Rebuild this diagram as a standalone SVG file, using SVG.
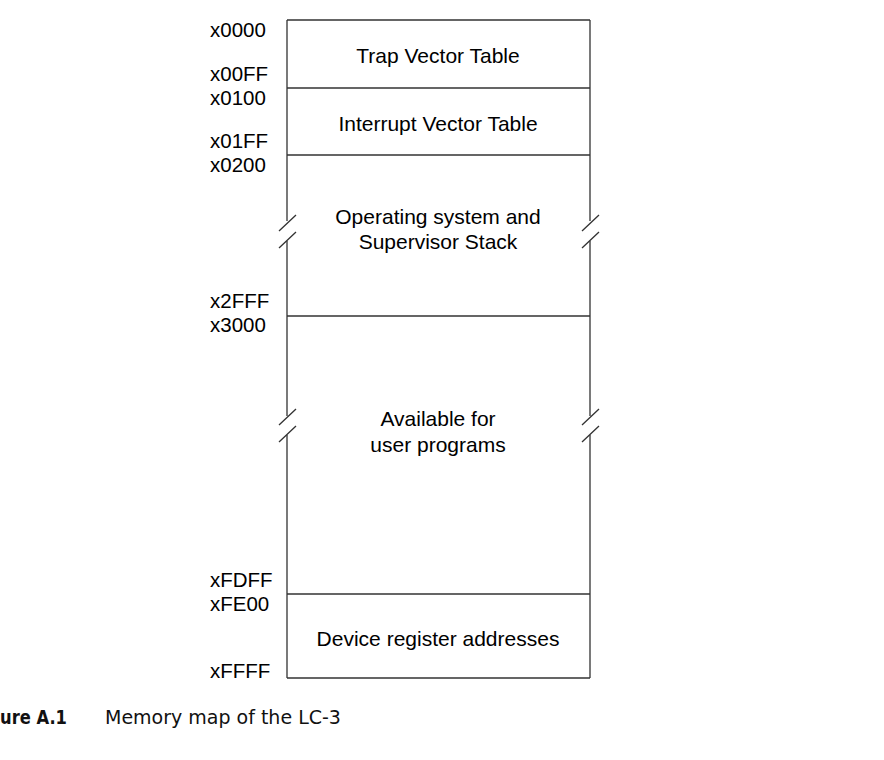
<svg xmlns="http://www.w3.org/2000/svg" width="884" height="760" viewBox="0 0 884 760">
<style>
.addr{font-family:"Liberation Sans",Arial,sans-serif;font-size:20.5px;fill:#000}
.lbl{font-family:"Liberation Sans",Arial,sans-serif;font-size:21px;fill:#000;text-anchor:middle}
.ln{stroke:#333;stroke-width:1.3;fill:none}
.cap{font-family:"DejaVu Sans",sans-serif;font-size:19px;fill:#111}
</style>
<rect width="884" height="760" fill="#fff"/>
<g id="connectors">
<path class="ln" d="M287,20 H590 M287,88 H590 M287,155 H590 M287,316 H590 M287,594 H590 M287,678 H590"/>
<path class="ln" d="M287,20 V221 M287,241 V416 M287,435 V678"/>
<path class="ln" d="M590,20 V221 M590,241 V416 M590,435 V678"/>
<path class="ln" d="M279,231 L296,215 M279,248 L296,232 M582,231 L599,215 M582,248 L599,232"/>
<path class="ln" d="M279,425 L296,409 M279,442 L296,426 M582,425 L599,409 M582,442 L599,426"/>
</g>
<g id="trap"><text class="lbl" x="438" y="63">Trap Vector Table</text></g>
<g id="interrupt"><text class="lbl" x="438" y="131">Interrupt Vector Table</text></g>
<g id="os"><text class="lbl" x="438" y="224">Operating system and</text><text class="lbl" x="438" y="249">Supervisor Stack</text></g>
<g id="user"><text class="lbl" x="438" y="426">Available for</text><text class="lbl" x="438" y="452">user programs</text></g>
<g id="device"><text class="lbl" x="438" y="646">Device register addresses</text></g>
<g id="addresses">
<text class="addr" x="210" y="37">x0000</text>
<text class="addr" x="210" y="81">x00FF</text>
<text class="addr" x="210" y="105">x0100</text>
<text class="addr" x="210" y="148">x01FF</text>
<text class="addr" x="210" y="172">x0200</text>
<text class="addr" x="210" y="308">x2FFF</text>
<text class="addr" x="210" y="332">x3000</text>
<text class="addr" x="210" y="587">xFDFF</text>
<text class="addr" x="210" y="611">xFE00</text>
<text class="addr" x="210" y="678">xFFFF</text>
</g>
<g id="caption">
<text class="cap" x="0" y="724" font-weight="bold" font-size="20" textLength="67" lengthAdjust="spacingAndGlyphs">ure A.1</text>
<text class="cap" x="105" y="724">Memory map of the LC-3</text>
</g>
</svg>
